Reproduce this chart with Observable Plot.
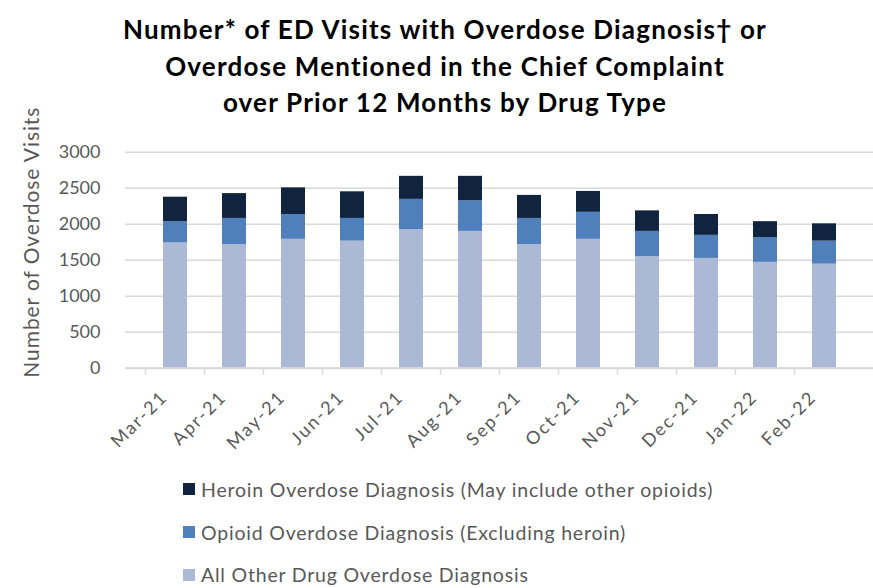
<!DOCTYPE html>
<html>
<head>
<meta charset="utf-8">
<script src="https://cdn.jsdelivr.net/npm/d3@7"></script>
<script src="https://cdn.jsdelivr.net/npm/@observablehq/plot@0.6"></script>
<style>
  html, body { margin: 0; padding: 0; background: #fff; }
  body { width: 873px; height: 588px; overflow: hidden; font-family: Lato, "Open Sans", sans-serif; position: relative; }
  #title { position: absolute; left: 0; top: 0; text-align: center; font-weight: bold; font-size: 26px; letter-spacing: 1.2px; line-height: 36.5px; color: #000; padding-top: 11px; width: 856px; padding-left: 17px; white-space: nowrap; z-index: 2; }
  #chart { padding-top: 95px; }
  #chart svg { display: block; }
  #legend { padding-left: 183px; padding-top: 3px; }
  .row { height: 42.8px; font-size: 19.5px; letter-spacing: 0.8px; color: #595959; display: flex; align-items: center; }
  .sw { width: 12px; height: 12px; margin-right: 6px; flex: none; }
</style>
</head>
<body>
<div id="title">Number* of ED Visits with Overdose Diagnosis† or<br>Overdose Mentioned in the Chief Complaint<br>over Prior 12 Months by Drug Type</div>
<div id="chart"></div>
<div id="legend"></div>
<script>
const months = ["Mar-21","Apr-21","May-21","Jun-21","Jul-21","Aug-21","Sep-21","Oct-21","Nov-21","Dec-21","Jan-22","Feb-22"];
const otherDrug = [1740, 1715, 1790, 1765, 1925, 1900, 1715, 1790, 1550, 1525, 1470, 1445];
const opioid    = [295, 365, 345, 315, 420, 425, 365, 375, 350, 320, 345, 320];
const heroin    = [340, 345, 370, 370, 320, 340, 320, 290, 285, 290, 220, 240];
const seriesNames = ["Heroin Overdose Diagnosis (May include other opioids)", "Opioid Overdose Diagnosis (Excluding heroin)", "All Other Drug Overdose Diagnosis"];
const seriesColors = ["#11243f", "#4f80bc", "#abb9d7"];
const yTicks = [0, 500, 1000, 1500, 2000, 2500, 3000];
const yLabel = "Number of Overdose Visits";

const rows = [];
months.forEach((m, i) => {
  rows.push({month: m, series: seriesNames[2], value: otherDrug[i]});
  rows.push({month: m, series: seriesNames[1], value: opioid[i]});
  rows.push({month: m, series: seriesNames[0], value: heroin[i]});
});

const boundaryTicks = (index, scales, values, dimensions) => {
  const x = scales.x;
  const g = d3.create("svg:g");
  const step = x.step(), bw = x.bandwidth();
  const y0 = dimensions.height - dimensions.marginBottom;
  months.forEach(m => {
    const bx = x(m) - (step - bw) / 2;
    g.append("line").attr("x1", bx).attr("x2", bx).attr("y1", y0).attr("y2", y0 + 7)
      .attr("stroke", "#d9d9d9").attr("stroke-width", 1.5);
  });
  return g.node();
};

const plot = Plot.plot({
  width: 873,
  height: 370,
  marginLeft: 125,
  marginRight: 0,
  marginTop: 56.7,
  marginBottom: 97.3,
  style: { fontFamily: "Lato, 'Open Sans', sans-serif", color: "#595959", background: "transparent", overflow: "visible" },
  x: { domain: months, padding: 0.6 },
  y: { domain: [0, 3000] },
  color: { domain: seriesNames, range: seriesColors },
  marks: [
    Plot.gridY(yTicks, { stroke: "#d9d9d9", strokeOpacity: 1, strokeWidth: 1.5 }),
    Plot.barY(rows, { x: "month", y: "value", fill: "series", order: [seriesNames[2], seriesNames[1], seriesNames[0]] }),
    Plot.ruleY([0], { stroke: "#d9d9d9", strokeWidth: 2 }),
    boundaryTicks,
    Plot.axisY(yTicks, { tickSize: 0, tickPadding: 25, fontSize: 18, fill: "#595959", tickFormat: "d", label: null }),
    Plot.text([yLabel], { frameAnchor: "left", rotate: -90, dx: -93, dy: -18, fontSize: 21, fill: "#595959", textAnchor: "middle", lineAnchor: "middle", text: d => d }),
    Plot.axisX({ tickSize: 0, tickRotate: -45, fontSize: 18, fill: "#595959", tickPadding: 26, dx: -11, label: null })
  ]
});
plot.querySelectorAll("[aria-label='x-axis tick label'] text").forEach(t => t.style.letterSpacing = "2px");
plot.querySelectorAll("[aria-label='text'] text").forEach(t => t.style.letterSpacing = "0.9px");
document.getElementById("chart").appendChild(plot);

const legend = document.getElementById("legend");
seriesNames.forEach((n, i) => {
  const r = document.createElement("div");
  r.className = "row";
  r.innerHTML = `<span class="sw" style="background:${seriesColors[i]}"></span><span>${n}</span>`;
  legend.appendChild(r);
});
</script>
</body>
</html>
